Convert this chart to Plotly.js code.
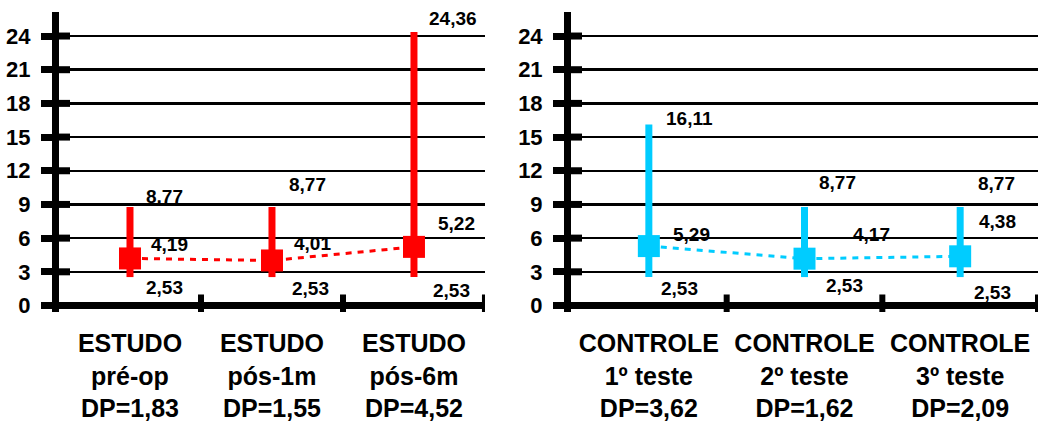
<!DOCTYPE html>
<html>
<head>
<meta charset="utf-8">
<script src="https://cdn.plot.ly/plotly-3.0.1.min.js"></script>
<style>html,body{margin:0;padding:0;background:#fff;}</style>
</head>
<body>
<div id="chart" style="width:1043px;height:424px;"></div>
<script>
// ---- data ----
const estudoGroup = ["ESTUDO", "ESTUDO", "ESTUDO"];
const estudoPhase = ["pré-op", "pós-1m", "pós-6m"];
const estudoDP = ["1,83", "1,55", "4,52"];
const estudoMean = [4.19, 4.01, 5.22];
const estudoMax = [8.77, 8.77, 24.36];
const estudoMin = [2.53, 2.53, 2.53];

const controleGroup = ["CONTROLE", "CONTROLE", "CONTROLE"];
const controlePhase = ["1º teste", "2º teste", "3º teste"];
const controleDP = ["3,62", "1,62", "2,09"];
const controleMean = [5.29, 4.17, 4.38];
const controleMax = [16.11, 8.77, 8.77];
const controleMin = [2.53, 2.53, 2.53];

const yTickVals = [0, 3, 6, 9, 12, 15, 18, 21, 24];

// ---- label offsets (pixels) : [max, mean, min] per category ----
const estudoShift = [
  [[35, 11], [40, 14], [35, -10]],
  [[36, 23], [41, 17], [39, -11]],
  [[39, 13], [43, 23], [38, -13]]
];
const controleShift = [
  [[41, 6], [43, 12], [31, -11]],
  [[33, 25], [67, 24], [40, -8]],
  [[36, 24], [37, 35], [32, -15]]
];

const RED = "#FF0000";
const CYAN = "#00CCFF";
const FONT = "Liberation Sans, Arial, sans-serif";
const fmt = v => v.toFixed(2).replace(".", ",");
const idx = [0, 1, 2];

function panelTrace(mean, max, min, color, xa, ya) {
  return {
    type: "scatter", mode: "lines+markers",
    x: idx, y: mean, xaxis: xa, yaxis: ya,
    line: { color: color, width: 3, dash: "6px,6px" },
    marker: { symbol: "square", size: 22, color: color },
    error_y: {
      type: "data", symmetric: false,
      array: max.map((m, i) => m - mean[i]),
      arrayminus: min.map((m, i) => mean[i] - m),
      thickness: 7, width: 0, color: color
    },
    hoverinfo: "skip", showlegend: false, cliponaxis: false
  };
}

const traces = [
  panelTrace(estudoMean, estudoMax, estudoMin, RED, "x", "y"),
  panelTrace(controleMean, controleMax, controleMin, CYAN, "x2", "y2")
];

function panelAnnotations(mean, max, min, shift, xa, ya) {
  const out = [];
  idx.forEach(i => {
    [max[i], mean[i], min[i]].forEach((v, k) => {
      out.push({
        x: i, y: v, xref: xa, yref: ya, text: fmt(v), showarrow: false,
        xshift: shift[i][k][0], yshift: shift[i][k][1],
        font: { family: FONT, size: 19, color: "#000", weight: "bold" }
      });
    });
  });
  return out;
}

function panelShapes(xa, ya) {
  const s = [];
  yTickVals.forEach(t => {
    s.push({ type: "line", xref: xa + " domain", yref: ya, xsizemode: "pixel", xanchor: 0,
      x0: 0, x1: 11, y0: t, y1: t, line: { color: "#000", width: 7 } });
  });
  [0.5, 1.5, 2.5].forEach(b => {
    s.push({ type: "line", xref: xa, yref: ya, ysizemode: "pixel", yanchor: 0,
      x0: b, x1: b, y0: -11, y1: 11, line: { color: "#000", width: 6 } });
  });
  return s;
}

const yAxisBase = {
  range: [-0.58, 26.14], tickvals: yTickVals, ticktext: yTickVals.map(String),
  showgrid: true, gridcolor: "#000", gridwidth: 2.5,
  zeroline: true, zerolinecolor: "#000", zerolinewidth: 7,
  showline: true, linecolor: "#000", linewidth: 7,
  ticks: "outside", ticklen: 11, tickwidth: 7, tickcolor: "#000",
  ticklabelstandoff: 6,
  tickfont: { family: FONT, size: 22, color: "#000", weight: "bold" },
  fixedrange: true
};
const xAxisBase = {
  range: [-0.5, 2.5], tickvals: idx,
  showgrid: false, zeroline: false, showline: false, ticks: "",
  ticklabelstandoff: 14,
  tickfont: { family: FONT, size: 25, color: "#000", weight: "bold" },
  fixedrange: true
};

const layout = {
  width: 1043, height: 424,
  margin: { l: 59, r: 5, t: 12, b: 112 },
  paper_bgcolor: "#fff", plot_bgcolor: "#fff",
  showlegend: false,
  xaxis: Object.assign({}, xAxisBase, { domain: [0, 0.4351], anchor: "y",
    ticktext: idx.map(i => estudoGroup[i] + "<br>" + estudoPhase[i] + "<br>DP=" + estudoDP[i]) }),
  xaxis2: Object.assign({}, xAxisBase, { domain: [0.523, 1], anchor: "y2",
    ticktext: idx.map(i => controleGroup[i] + "<br>" + controlePhase[i] + "<br>DP=" + controleDP[i]) }),
  yaxis: Object.assign({}, yAxisBase, { anchor: "x" }),
  yaxis2: Object.assign({}, yAxisBase, { anchor: "x2" }),
  annotations: panelAnnotations(estudoMean, estudoMax, estudoMin, estudoShift, "x", "y")
    .concat(panelAnnotations(controleMean, controleMax, controleMin, controleShift, "x2", "y2")),
  shapes: panelShapes("x", "y").concat(panelShapes("x2", "y2"))
};

Plotly.newPlot("chart", traces, layout, { displayModeBar: false, staticPlot: true });
</script>
</body>
</html>
